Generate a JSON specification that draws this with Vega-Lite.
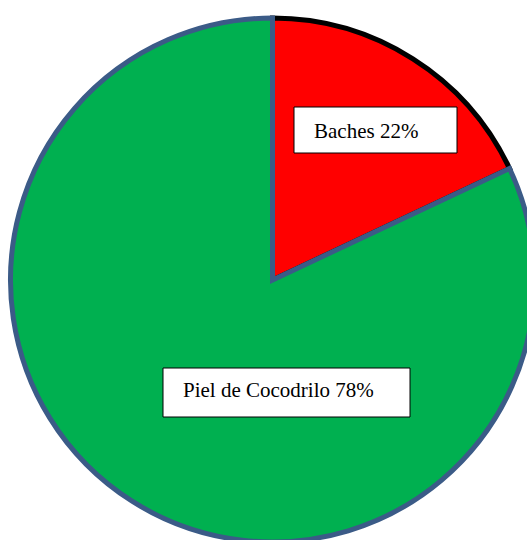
{
  "$schema": "https://vega.github.io/schema/vega-lite/v6.json",
  "width": 545,
  "height": 560,
  "padding": 0,
  "autosize": {"type": "none"},
  "background": "white",
  "config": {"view": {"stroke": null}},
  "data": {
    "values": [
      {"category": "Baches", "share": 18, "label": "Baches 22%", "order": 1},
      {"category": "Piel de Cocodrilo", "share": 82, "label": "Piel de Cocodrilo 78%", "order": 2}
    ]
  },
  "layer": [
    {
      "mark": {"type": "arc", "outerRadius": 262, "strokeWidth": 5, "strokeJoin": "miter"},
      "encoding": {
        "theta": {"field": "share", "type": "quantitative", "stack": true},
        "order": {"field": "order", "type": "quantitative"},
        "color": {
          "field": "category", "type": "nominal",
          "scale": {"domain": ["Baches", "Piel de Cocodrilo"], "range": ["#FF0000", "#00B050"]},
          "legend": null
        },
        "stroke": {
          "field": "category", "type": "nominal",
          "scale": {"domain": ["Baches", "Piel de Cocodrilo"], "range": ["#000000", "#3B5B87"]},
          "legend": null
        }
      }
    },
    {
      "mark": {"type": "point", "filled": true, "fill": "white", "stroke": "black", "strokeWidth": 1, "opacity": 1, "size": 4},
      "encoding": {
        "x": {"field": "category", "type": "nominal", "axis": null,
              "scale": {"type": "point", "domain": ["Baches", "Piel de Cocodrilo"], "range": [375.5, 286.5], "padding": 0}},
        "y": {"field": "category", "type": "nominal", "axis": null,
              "scale": {"type": "point", "domain": ["Baches", "Piel de Cocodrilo"], "range": [130, 392.5], "padding": 0}},
        "shape": {"field": "category", "type": "nominal", "legend": null,
                  "scale": {"domain": ["Baches", "Piel de Cocodrilo"],
                            "range": ["M-81.5,-23H81.5V23H-81.5Z", "M-123.5,-24.5H123.5V24.5H-123.5Z"]}}
      }
    },
    {
      "mark": {"type": "text", "align": "left", "baseline": "alphabetic", "font": "Liberation Serif", "fontSize": 21, "color": "black"},
      "encoding": {
        "x": {"field": "category", "type": "nominal", "axis": null,
              "scale": {"type": "point", "domain": ["Baches", "Piel de Cocodrilo"], "range": [314, 183], "padding": 0}},
        "y": {"field": "category", "type": "nominal", "axis": null,
              "scale": {"type": "point", "domain": ["Baches", "Piel de Cocodrilo"], "range": [137.5, 397], "padding": 0}},
        "text": {"field": "label", "type": "nominal"}
      }
    }
  ],
  "resolve": {"scale": {"x": "independent", "y": "independent"}}
}
